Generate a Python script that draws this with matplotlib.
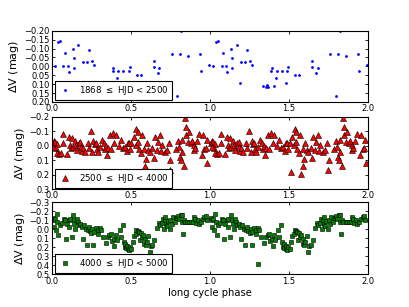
import numpy as np
import matplotlib
matplotlib.use("Agg")
import matplotlib.pyplot as plt

# =========================
# DATA (one long cycle, plotted twice)
# =========================

ph1 = [0.023, 0.042, 0.053, 0.074, 0.084, 0.100, 0.108, 0.135, 0.139, 0.141,
       0.169, 0.190, 0.200, 0.224, 0.234, 0.255, 0.268, 0.335, 0.356, 0.363,
       0.365, 0.388, 0.390, 0.407, 0.416, 0.422, 0.454, 0.481, 0.487, 0.494,
       0.538, 0.565, 0.646, 0.648, 0.671, 0.681, 0.762, 0.795, 0.812, 0.820,
       0.859, 0.937, 0.943, 0.994]
dv1 = [0.000, -0.136, -0.140, 0.000, -0.074, -0.003, 0.033, -0.099, -0.044, 0.007,
       -0.120, 0.091, -0.022, -0.023, -0.090, -0.029, -0.010, 0.112, 0.114, 0.104,
       0.116, 0.029, 0.010, 0.108, 0.063, 0.029, 0.027, 0.091, 0.029, 0.003,
       0.046, 0.050, -0.029, 0.005, 0.039, 0.012, -0.067, 0.165, -0.069, -0.198,
       -0.059, -0.069, 0.025, -0.010]

ph2 = [0.006, 0.015, 0.021, 0.032, 0.026, 0.011, 0.032, 0.045, 0.060, 0.073,
       0.069, 0.097, 0.107, 0.114, 0.122, 0.129, 0.135, 0.148, 0.155, 0.161,
       0.174, 0.182, 0.187, 0.191, 0.200, 0.208, 0.230, 0.236, 0.247, 0.258,
       0.264, 0.273, 0.281, 0.285, 0.294, 0.305, 0.318, 0.328, 0.337, 0.345,
       0.350, 0.358, 0.367, 0.376, 0.388, 0.397, 0.408, 0.423, 0.440, 0.451,
       0.461, 0.474, 0.483, 0.489, 0.496, 0.504, 0.515, 0.521, 0.530, 0.536,
       0.543, 0.547, 0.554, 0.562, 0.569, 0.579, 0.586, 0.590, 0.594, 0.603,
       0.612, 0.622, 0.637, 0.646, 0.655, 0.663, 0.672, 0.682, 0.689, 0.697,
       0.715, 0.730, 0.740, 0.751, 0.750, 0.783, 0.796, 0.805, 0.809, 0.815,
       0.822, 0.826, 0.835, 0.843, 0.848, 0.850, 0.861, 0.869, 0.880, 0.886,
       0.897, 0.901, 0.908, 0.918, 0.933, 0.955, 0.966, 0.976, 0.981, 0.950,
       0.985]
dv2 = [-0.020, -0.034, -0.023, -0.014, 0.014, 0.007, 0.052, 0.057, 0.052, -0.077,
       -0.016, 0.059, -0.061, -0.007, 0.018, -0.055, 0.007, -0.030, -0.005, 0.030,
       -0.016, -0.025, 0.007, 0.034, 0.014, 0.041, -0.016, 0.018, -0.102, 0.045,
       -0.030, -0.011, -0.020, 0.025, 0.041, 0.007, -0.039, -0.020, 0.020, 0.002,
       0.064, 0.018, -0.073, 0.025, -0.084, -0.016, -0.070, 0.002, -0.039, 0.018,
       0.011, 0.034, -0.016, -0.020, 0.025, -0.016, 0.184, -0.061, -0.005, -0.118,
       -0.025, -0.093, 0.025, 0.052, -0.073, 0.198, 0.025, 0.143, 0.093, -0.016,
       0.030, 0.041, 0.014, 0.086, -0.057, 0.030, -0.025, -0.073, 0.034, -0.005,
       0.041, 0.030, -0.016, 0.098, 0.170, 0.023, -0.034, 0.007, 0.080, 0.098,
       0.045, -0.039, 0.143, -0.193, -0.073, -0.130, -0.025, -0.095, -0.016, -0.032,
       -0.005, 0.030, 0.014, -0.032, -0.077, -0.073, 0.025, 0.018, -0.039, 0.065,
       0.120]

ph3 = [0.006, 0.011, 0.021, 0.032, 0.036, 0.015, 0.028, 0.043, 0.054, 0.064,
       0.075, 0.086, 0.092, 0.097, 0.107, 0.112, 0.118, 0.129, 0.133, 0.139,
       0.144, 0.150, 0.157, 0.165, 0.172, 0.182, 0.193, 0.200, 0.204, 0.215,
       0.221, 0.230, 0.236, 0.242, 0.251, 0.258, 0.264, 0.268, 0.279, 0.290,
       0.294, 0.307, 0.311, 0.322, 0.343, 0.354, 0.365, 0.376, 0.382, 0.393,
       0.397, 0.408, 0.414, 0.429, 0.440, 0.451, 0.457, 0.461, 0.466, 0.472,
       0.479, 0.483, 0.487, 0.494, 0.504, 0.515, 0.521, 0.530, 0.536, 0.543,
       0.551, 0.558, 0.564, 0.569, 0.579, 0.586, 0.590, 0.594, 0.601, 0.612,
       0.622, 0.627, 0.637, 0.650, 0.665, 0.676, 0.687, 0.697, 0.702, 0.708,
       0.715, 0.719, 0.723, 0.730, 0.736, 0.745, 0.751, 0.762, 0.766, 0.779,
       0.783, 0.794, 0.800, 0.805, 0.815, 0.822, 0.826, 0.830, 0.837, 0.843,
       0.858, 0.869, 0.880, 0.891, 0.901, 0.908, 0.912, 0.923, 0.933, 0.944,
       0.955, 0.966, 0.976, 0.983, 0.306]
dv3 = [-0.123, -0.097, -0.116, -0.171, -0.079, -0.024, 0.006, 0.069, -0.042, -0.068,
       -0.112, -0.105, 0.106, -0.061, -0.097, -0.024, -0.116, 0.087, -0.153, -0.097,
       -0.061, -0.005, -0.116, -0.079, -0.042, -0.061, -0.024, 0.106, -0.042, -0.005,
       0.172, 0.013, -0.024, 0.021, 0.043, -0.005, 0.172, 0.032, -0.016, 0.050,
       0.006, -0.013, 0.013, 0.087, 0.154, 0.087, 0.069, 0.050, 0.135, 0.106,
       0.190, 0.069, 0.124, 0.006, 0.087, -0.042, 0.142, 0.198, 0.161, 0.209,
       0.190, 0.224, 0.227, 0.198, 0.216, 0.142, 0.080, 0.058, 0.006, 0.021,
       0.032, 0.124, 0.043, 0.087, 0.069, 0.161, 0.106, 0.179, 0.142, 0.080,
       0.253, 0.190, 0.179, 0.124, -0.013, -0.068, -0.042, -0.068, -0.116, -0.005,
       -0.097, -0.134, -0.061, -0.031, -0.090, -0.005, -0.097, -0.061, -0.134, -0.079,
       -0.127, -0.127, -0.142, -0.116, -0.153, -0.079, -0.153, 0.058, -0.105, -0.079,
       -0.079, -0.079, -0.079, -0.079, -0.134, -0.116, -0.068, -0.105, -0.053, -0.079,
       -0.116, -0.134, -0.142, -0.097, 0.383]

labels = [r"1868 $\leq$ HJD < 2500",
          r"2500 $\leq$ HJD < 4000",
          r"4000 $\leq$ HJD < 5000"]
ylims = [(0.20, -0.20), (0.3, -0.2), (0.5, -0.3)]
yticks = [np.arange(-0.20, 0.201, 0.05), np.arange(-0.2, 0.301, 0.1),
          np.arange(-0.3, 0.501, 0.1)]
yfmt = ["%.2f", "%.1f", "%.1f"]
xticks = [0.0, 0.5, 1.0, 1.5, 2.0]

# =========================
# FIGURE
# =========================

fig = plt.figure(figsize=(4.09, 3.07), dpi=100)

boxes = [[0.1264, 0.668, 0.7733, 0.232],
         [0.1264, 0.384, 0.7733, 0.236],
         [0.1264, 0.106, 0.7733, 0.236]]

styles = [dict(marker=".", color="b", ms=4, mec="b", mew=0),
          dict(marker="^", color="r", ms=3.8, mec="k", mew=0.4),
          dict(marker="s", color="#008000", ms=3.3, mec="k", mew=0.4)]

data = [(ph1, dv1), (ph2, dv2), (ph3, dv3)]

for i in range(3):
    ax = fig.add_axes(boxes[i])
    ph = np.array(data[i][0])
    dv = np.array(data[i][1])
    x = np.concatenate([ph, ph + 1])
    y = np.concatenate([dv, dv])
    ax.plot(x, y, ls="none", label=labels[i], **styles[i])

    ax.set_xlim(0, 2)
    ax.set_ylim(*ylims[i])
    ax.set_xticks(xticks)
    ax.set_yticks(yticks[i])
    ax.set_yticklabels([(yfmt[i] % v).replace("-", "\u2212") if abs(v) > 1e-9
                        else yfmt[i] % 0 for v in yticks[i]])
    ax.xaxis.set_major_formatter(plt.FormatStrFormatter("%.1f"))
    ax.tick_params(direction="in", top=True, right=True, length=2.5,
                   width=0.6, labelsize=6, pad=1.5)
    for s in ax.spines.values():
        s.set_linewidth(0.8)
    ax.set_ylabel(r"$\Delta$V (mag)", fontsize=8, labelpad=2)

    leg = ax.legend(loc="lower left", bbox_to_anchor=(0.012, 0.02),
                    borderaxespad=0, numpoints=1, fontsize=6.2,
                    fancybox=False, framealpha=1, handlelength=1.6,
                    handletextpad=0.8, borderpad=0.35)
    leg.get_frame().set_edgecolor("k")
    leg.get_frame().set_linewidth(0.8)

    if i == 2:
        ax.set_xlabel("long cycle phase", fontsize=7.2, labelpad=2)

fig.savefig("out.png", dpi=100)
